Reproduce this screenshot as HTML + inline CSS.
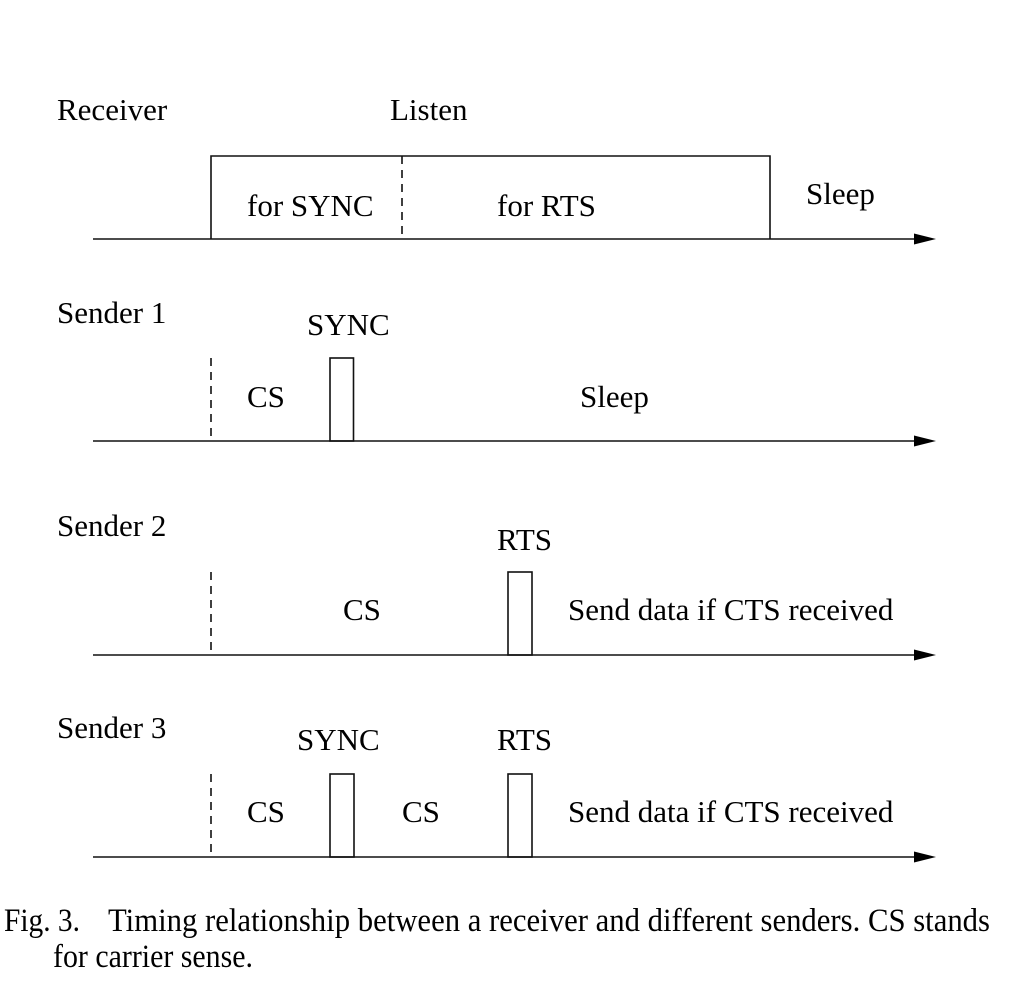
<!DOCTYPE html>
<html>
<head>
<meta charset="utf-8">
<style>
html,body{margin:0;padding:0;background:#fff;}
svg{display:block;}
text{font-family:"Liberation Serif","Times New Roman",serif;font-size:31px;fill:#000;}
text.cap{font-size:33px;}
</style>
</head>
<body>
<svg width="1024" height="1000" viewBox="0 0 1024 1000" xmlns="http://www.w3.org/2000/svg">
<g stroke="#111" stroke-width="1.6" fill="none">
  <!-- Receiver -->
  <line x1="93" y1="239" x2="916" y2="239"/>
  <polyline points="211,239 211,156 770,156 770,239"/>
  <line x1="402" y1="156" x2="402" y2="239" stroke-dasharray="8,6"/>
  <!-- Sender 1 -->
  <line x1="93" y1="441" x2="916" y2="441"/>
  <line x1="211" y1="358" x2="211" y2="441" stroke-dasharray="8,6"/>
  <rect x="330" y="358" width="23.5" height="83"/>
  <!-- Sender 2 -->
  <line x1="93" y1="655" x2="916" y2="655"/>
  <line x1="211" y1="572" x2="211" y2="655" stroke-dasharray="8,6"/>
  <rect x="508" y="572" width="24" height="83"/>
  <!-- Sender 3 -->
  <line x1="93" y1="857" x2="916" y2="857"/>
  <line x1="211" y1="774" x2="211" y2="857" stroke-dasharray="8,6"/>
  <rect x="330" y="774" width="24" height="83"/>
  <rect x="508" y="774" width="24" height="83"/>
</g>
<g fill="#000">
  <polygon points="914,233.5 936,239 914,244.5"/>
  <polygon points="914,435.5 936,441 914,446.5"/>
  <polygon points="914,649.5 936,655 914,660.5"/>
  <polygon points="914,851.5 936,857 914,862.5"/>
</g>
<!-- Receiver labels -->
<text x="57" y="120">Receiver</text>
<text x="390" y="120">Listen</text>
<text x="247" y="216">for SYNC</text>
<text x="497" y="216">for RTS</text>
<text x="806" y="204">Sleep</text>
<!-- Sender 1 -->
<text x="57" y="323">Sender 1</text>
<text x="307" y="335">SYNC</text>
<text x="247" y="407">CS</text>
<text x="580" y="407">Sleep</text>
<!-- Sender 2 -->
<text x="57" y="536">Sender 2</text>
<text x="497" y="550">RTS</text>
<text x="343" y="620">CS</text>
<text x="568" y="620">Send data if CTS received</text>
<!-- Sender 3 -->
<text x="57" y="738">Sender 3</text>
<text x="297" y="750">SYNC</text>
<text x="497" y="750">RTS</text>
<text x="247" y="822">CS</text>
<text x="402" y="822">CS</text>
<text x="568" y="822">Send data if CTS received</text>
<!-- Caption -->
<text class="cap" x="4" y="931" textLength="76" lengthAdjust="spacingAndGlyphs">Fig. 3.</text>
<text class="cap" x="108" y="931" textLength="882" lengthAdjust="spacingAndGlyphs">Timing relationship between a receiver and different senders. CS stands</text>
<text class="cap" x="53" y="967" textLength="200" lengthAdjust="spacingAndGlyphs">for carrier sense.</text>
</svg>
</body>
</html>
